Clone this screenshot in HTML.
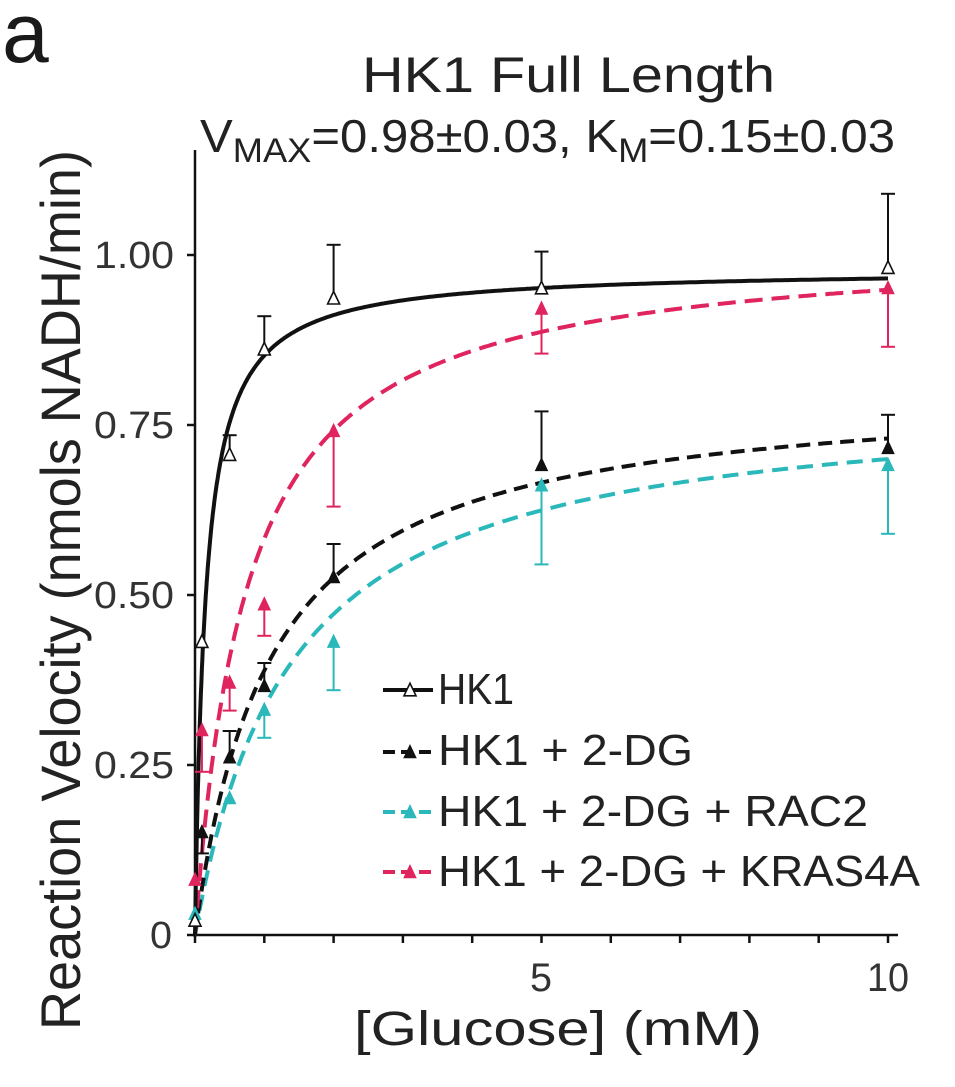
<!DOCTYPE html>
<html><head><meta charset="utf-8"><style>
html,body{margin:0;padding:0;background:#fff;}
svg{display:block;font-family:"Liberation Sans",Arial,sans-serif;fill:#222;}
</style></head><body>
<svg id="s" width="955" height="1087" viewBox="0 0 955 1087" xmlns="http://www.w3.org/2000/svg">
<text x="2" y="62" font-size="84" fill="#1a1a1a">a</text>
<text x="362" y="92" font-size="50" textLength="413" lengthAdjust="spacingAndGlyphs" fill="#222">HK1 Full Length</text>
<text x="200" y="152" font-size="46" fill="#222" textLength="695" lengthAdjust="spacingAndGlyphs">V<tspan font-size="34" dy="10">MAX</tspan><tspan dy="-10">=0.98±0.03, K</tspan><tspan font-size="34" dy="10">M</tspan><tspan dy="-10">=0.15±0.03</tspan></text>
<g font-size="38" text-anchor="end" fill="#333">
<text x="174" y="268" textLength="80" lengthAdjust="spacingAndGlyphs">1.00</text>
<text x="174" y="438" textLength="80" lengthAdjust="spacingAndGlyphs">0.75</text>
<text x="174" y="608" textLength="80" lengthAdjust="spacingAndGlyphs">0.50</text>
<text x="174" y="778" textLength="80" lengthAdjust="spacingAndGlyphs">0.25</text>
<text x="172" y="948" textLength="22" lengthAdjust="spacingAndGlyphs">0</text>
</g>
<g font-size="40" text-anchor="middle" fill="#333">
<text x="541" y="991" textLength="22" lengthAdjust="spacingAndGlyphs">5</text>
<text x="888" y="991" textLength="42" lengthAdjust="spacingAndGlyphs">10</text>
</g>
<text x="558" y="1045" font-size="48" text-anchor="middle" textLength="408" lengthAdjust="spacingAndGlyphs" fill="#222">[Glucose]  (mM)</text>
<text transform="translate(80,590) rotate(-90)" font-size="56" text-anchor="middle" textLength="880" lengthAdjust="spacingAndGlyphs" fill="#222">Reaction Velocity (nmols NADH/min)</text>
<g id="axes" stroke="#111" stroke-width="2.5" fill="none"></g>
<g id="plot"></g>
<g font-size="44" fill="#222">
<text x="438" y="704" textLength="76" lengthAdjust="spacingAndGlyphs">HK1</text>
<text x="438" y="765" textLength="255" lengthAdjust="spacingAndGlyphs">HK1 + 2-DG</text>
<text x="438" y="826" textLength="430" lengthAdjust="spacingAndGlyphs">HK1 + 2-DG + RAC2</text>
<text x="438" y="886" textLength="482" lengthAdjust="spacingAndGlyphs">HK1 + 2-DG + KRAS4A</text>
</g>
</svg>
<script>
var NS="http://www.w3.org/2000/svg";
function X(x){return 195+69.3*x;}function Y(v){return 935-680*v;}
function el(p,t,a){var e=document.createElementNS(NS,t);for(var k in a)e.setAttribute(k,a[k]);p.appendChild(e);return e;}
var ax=document.getElementById('axes'),pl=document.getElementById('plot');
el(ax,'line',{x1:195,y1:150,x2:195,y2:937});
el(ax,'line',{x1:193,y1:935,x2:898,y2:935});
[0,0.25,0.5,0.75,1].forEach(function(v){el(ax,'line',{x1:187,y1:Y(v),x2:195,y2:Y(v)});});
for(var i=0;i<=10;i++)el(ax,'line',{x1:X(i),y1:935,x2:X(i),y2:943});
function curve(V,K,col,dash){var d='';for(var i=0;i<=400;i++){var x=10*Math.pow(i/400,2);d+=(i?'L':'M')+X(x).toFixed(1)+','+Y(V*x/(K+x)).toFixed(1);}
var a={d:d,stroke:col,'stroke-width':4,fill:'none'};if(dash)a['stroke-dasharray']=dash;el(pl,'path',a);}
function tri(x,y,col,open){var s=6;el(pl,'path',{d:'M'+x+','+(y-s*1.3)+'L'+(x+s)+','+(y+s*0.8)+'L'+(x-s)+','+(y+s*0.8)+'Z',fill:open?'#fff':col,stroke:col,'stroke-width':open?1.6:1});}
function pts(data,col,open){data.forEach(function(p){var x=X(p[0]),y=Y(p[1]);if(p[2]!=null){var ye=Y(p[2]);el(pl,'line',{x1:x,y1:y,x2:x,y2:ye,stroke:col,'stroke-width':2});el(pl,'line',{x1:x-7,y1:ye,x2:x+7,y2:ye,stroke:col,'stroke-width':2});}tri(x,y,col,open);});}
var cy='#2ab8bb',pk='#e0245e';
curve(0.796,1.373,cy,'16,9');
curve(0.809,1.08,'#111','14,8');
curve(1.02,0.75,pk,'18,9');
curve(0.98,0.15,'#111',null);
pts([[0,0.08],[0.1,0.3,0.24],[0.5,0.37,0.33],[1,0.485,0.44],[2,0.74,0.63],[5,0.92,0.855],[10,0.95,0.865]],pk,false);
pts([[0,0.03],[0.5,0.2],[1,0.33,0.29],[2,0.43,0.36],[5,0.66,0.545],[10,0.69,0.59]],cy,false);
pts([[0,0.02],[0.1,0.15,0.12],[0.5,0.26,0.3],[1,0.365,0.4],[2,0.525,0.575],[5,0.69,0.77],[10,0.715,0.765]],'#111',false);
pts([[0,0.02],[0.1,0.43],[0.5,0.705,0.735],[1,0.86,0.91],[2,0.935,1.015],[5,0.95,1.005],[10,0.98,1.09]],'#111',true);
var ly=[690,752,812,872],lc=['#111','#111',cy,pk],ld=[null,'12,6','12,6','12,6'];
for(var i=0;i<4;i++){var a={x1:383,y1:ly[i],x2:433,y2:ly[i],stroke:lc[i],'stroke-width':4};if(ld[i])a['stroke-dasharray']=ld[i];el(pl,'line',a);tri(410,ly[i]+1,lc[i],i==0);}
</script>
</body></html>
